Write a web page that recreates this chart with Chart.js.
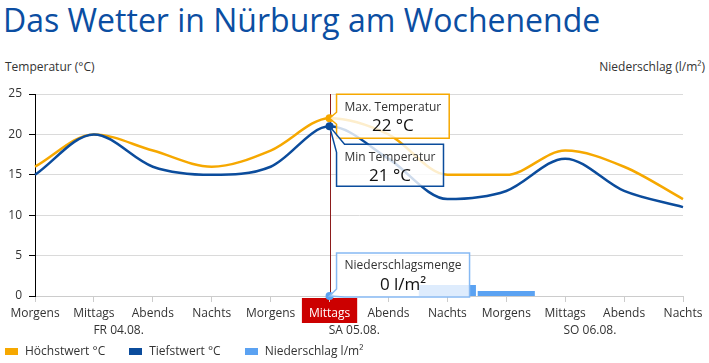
<!DOCTYPE html>
<html><head><meta charset="utf-8">
<script src="https://cdn.jsdelivr.net/npm/chart.js@4"></script>
<style>
html,body{margin:0;padding:0;background:#fff;}
#wrap{position:relative;width:709px;height:363px;overflow:hidden;font-family:'Open Sans',sans-serif;}
#c{position:absolute;left:0;top:0;}
#title{position:absolute;left:3px;top:2px;font-size:32px;line-height:36px;color:#0b4ea2;white-space:nowrap;}
.axt{position:absolute;top:59px;font-size:12px;line-height:16px;color:#333;white-space:nowrap;}
#legend{position:absolute;left:5px;top:343px;display:flex;font-size:12px;line-height:16px;color:#333;white-space:nowrap;}
.li{display:flex;align-items:center;margin-right:24px;}
.sw{width:13px;height:7px;margin-right:7px;}
</style></head>
<body><div id="wrap">
<div id="title">Das Wetter in Nürburg am Wochenende</div>
<div class="axt" style="left:5px">Temperatur (°C)</div>
<div class="axt" style="right:4px">Niederschlag (l/m²)</div>
<canvas id="c" width="709" height="363"></canvas>
<div id="legend"></div>
</div>
<script>
const categories = ['Morgens','Mittags','Abends','Nachts','Morgens','Mittags','Abends','Nachts','Morgens','Mittags','Abends','Nachts'];
const dayNames = ['FR 04.08.','SA 05.08.','SO 06.08.'];
const dayMiddayIndex = [1,5,9];
const maxTemp = [16,20,18,16,18,22,20,15,15,18,16,12];
const minTemp = [15,20,16,15,16,21,17,12,13,17,13,11];
const precip = [0,0,0,0,0,0,0,0.55,0.25,0,0,0];
const tempTicks = {min:0, max:25, step:5};
const HOVER = 5;
const DAY_LABEL_SHIFT = 0.42;
const COLORS = {max:'#f6a800', min:'#0b4c9c', rain:'#5ba2f2', rainBorder:'#86b9f3', red:'#cc0000', cursor:'#8c1c1c'};
const FONT = "'Open Sans', sans-serif";

Chart.defaults.font.family = FONT;
Chart.defaults.font.size = 12;
Chart.defaults.color = '#333';

function callout(ctx, x, y, w, h, ax, ay, side, color, title, value){
  ctx.save();
  ctx.beginPath();
  if (side === 'left') {
    ctx.moveTo(x, y); ctx.lineTo(x+w, y); ctx.lineTo(x+w, y+h); ctx.lineTo(x, y+h);
    ctx.lineTo(x, ay+6); ctx.lineTo(ax, ay); ctx.lineTo(x, ay-6); ctx.closePath();
  } else if (side === 'topleft') {
    ctx.moveTo(x+8, y); ctx.lineTo(x+w, y); ctx.lineTo(x+w, y+h); ctx.lineTo(x, y+h);
    ctx.lineTo(x, y+8); ctx.lineTo(ax, ay); ctx.closePath();
  } else {
    ctx.moveTo(x, y); ctx.lineTo(x+w, y); ctx.lineTo(x+w, y+h); ctx.lineTo(x+8, y+h);
    ctx.lineTo(ax, ay); ctx.lineTo(x, y+h-8); ctx.closePath();
  }
  ctx.fillStyle = 'rgba(255,255,255,0.8)';
  ctx.fill();
  ctx.lineWidth = 1.5; ctx.strokeStyle = color; ctx.stroke();
  ctx.textBaseline = 'middle';
  ctx.fillStyle = '#333'; ctx.font = '12px ' + FONT; ctx.textAlign = 'left';
  ctx.fillText(title, x+8, y+13);
  ctx.fillStyle = '#111'; ctx.font = '17px ' + FONT; ctx.textAlign = 'center';
  ctx.fillText(value, x+w/2, y+32);
  ctx.restore();
}

const hoverPlugin = {
  id: 'hoverState',
  beforeDraw(chart){
    const ctx = chart.ctx, xs = chart.scales.x, b = chart.chartArea.bottom;
    const px = xs.getPixelForValue(HOVER);
    ctx.save();
    ctx.font = '12px ' + FONT;
    const w = ctx.measureText(categories[HOVER]).width + 14;
    ctx.fillStyle = COLORS.red;
    ctx.fillRect(px - w/2, b + 2, w, 25);
    ctx.beginPath(); ctx.moveTo(px-4, b+2); ctx.lineTo(px, b-1); ctx.lineTo(px+4, b+2); ctx.closePath(); ctx.fill();
    ctx.restore();
  },
  beforeDatasetsDraw(chart){
    const ctx = chart.ctx, a = chart.chartArea;
    const px = Math.round(chart.scales.x.getPixelForValue(HOVER)) + 0.5;
    ctx.save();
    ctx.strokeStyle = COLORS.cursor; ctx.lineWidth = 1;
    ctx.beginPath(); ctx.moveTo(px, a.top); ctx.lineTo(px, a.bottom); ctx.stroke();
    ctx.restore();
  },
  afterDatasetsDraw(chart){
    const ctx = chart.ctx;
    const xs = chart.scales.x, ys = chart.scales.y, y2 = chart.scales.y2;
    const px = xs.getPixelForValue(HOVER);
    const pMax = ys.getPixelForValue(maxTemp[HOVER]);
    const pMin = ys.getPixelForValue(minTemp[HOVER]);
    const pRain = y2.getPixelForValue(precip[HOVER]);
    ctx.save();
    ctx.fillStyle = COLORS.rain;
    ctx.beginPath(); ctx.arc(px, pRain, 4, 0, Math.PI*2); ctx.fill();
    ctx.font = '12px ' + FONT;
    const h = 44, bx = px + 7;
    const t1 = 'Max. Temperatur', t2 = 'Min Temperatur', t3 = 'Niederschlagsmenge';
    const w1 = ctx.measureText(t1).width + 16;
    const w2 = ctx.measureText(t2).width + 16;
    const w3 = ctx.measureText(t3).width + 16;
    ctx.restore();
    const y1 = pMax - 24;
    callout(ctx, bx, y1, w1, h, px, pMax, 'left', COLORS.max, t1, maxTemp[HOVER] + ' °C');
    callout(ctx, bx, y1 + h + 6, w2, h - 2, px, pMin, 'topleft', COLORS.min, t2, minTemp[HOVER] + ' °C');
    callout(ctx, bx, pRain - 43, w3, h, px, pRain, 'bottomleft', COLORS.rainBorder, t3, precip[HOVER] + ' l/m²');
  }
};

const chart = new Chart(document.getElementById('c'), {
  type: 'line',
  data: {
    labels: categories,
    datasets: [
      {type:'line', label:'Höchstwert °C', data:maxTemp, borderColor:COLORS.max, backgroundColor:COLORS.max,
       borderWidth:2.5, cubicInterpolationMode:'monotone', pointRadius:c=>c.dataIndex===HOVER?4:0,
       pointBorderWidth:0, pointHoverRadius:4, yAxisID:'y', xAxisID:'x', order:2},
      {type:'line', label:'Tiefstwert °C', data:minTemp, borderColor:COLORS.min, backgroundColor:COLORS.min,
       borderWidth:2.5, cubicInterpolationMode:'monotone', pointRadius:c=>c.dataIndex===HOVER?4:0,
       pointBorderWidth:0, pointHoverRadius:4, yAxisID:'y', xAxisID:'x', order:1},
      {type:'bar', label:'Niederschlag l/m²', data:precip, backgroundColor:COLORS.rain, borderWidth:0,
       categoryPercentage:1, barPercentage:0.97, yAxisID:'y2', xAxisID:'x', order:3}
    ]
  },
  options: {
    responsive:false, animation:false, events:[],
    layout:{padding:{top:94, right:26, left:0, bottom:0}},
    plugins:{legend:{display:false}, tooltip:{enabled:false}, title:{display:false}},
    scales:{
      x:{type:'category', position:'bottom', offset:false, weight:0,
         grid:{offset:false, drawOnChartArea:false, drawTicks:true, tickLength:6, color:'#cccccc'},
         border:{color:'#cccccc', width:1},
         ticks:{autoSkip:false, maxRotation:0, padding:3, color:c=>c.index===HOVER?'#ffffff':'#333333', font:{size:12, lineHeight:1.4}},
         afterFit(s){ s.height = 26; }},
      x2:{type:'linear', position:'bottom', min:0, max:categories.length-1, weight:1,
         grid:{display:false, drawTicks:false}, border:{display:false},
         afterBuildTicks(s){ s.ticks = dayMiddayIndex.map(i => ({value: i + DAY_LABEL_SHIFT})); },
         ticks:{autoSkip:false, maxRotation:0, padding:0, color:'#333333', font:{size:12, lineHeight:1.4},
                callback:(v, i) => dayNames[i]},
         afterFit(s){ s.height = 41; }},
      y:{position:'left', min:tempTicks.min, max:tempTicks.max,
         ticks:{stepSize:tempTicks.step, padding:7, color:'#333333', font:{size:12}},
         grid:{color:'#dadada', tickColor:'#000000', tickLength:6},
         border:{color:'#000000', width:1},
         afterFit(s){ s.width = 35; }},
      y2:{position:'right', display:false, min:0, max:10, grid:{drawOnChartArea:false}}
    }
  },
  plugins:[hoverPlugin]
});

const lg = document.getElementById('legend');
chart.data.datasets.forEach(ds => {
  const it = document.createElement('div'); it.className = 'li';
  const sw = document.createElement('span'); sw.className = 'sw'; sw.style.background = ds.backgroundColor;
  const tx = document.createElement('span'); tx.textContent = ds.label;
  it.appendChild(sw); it.appendChild(tx); lg.appendChild(it);
});
</script>
</body></html>
